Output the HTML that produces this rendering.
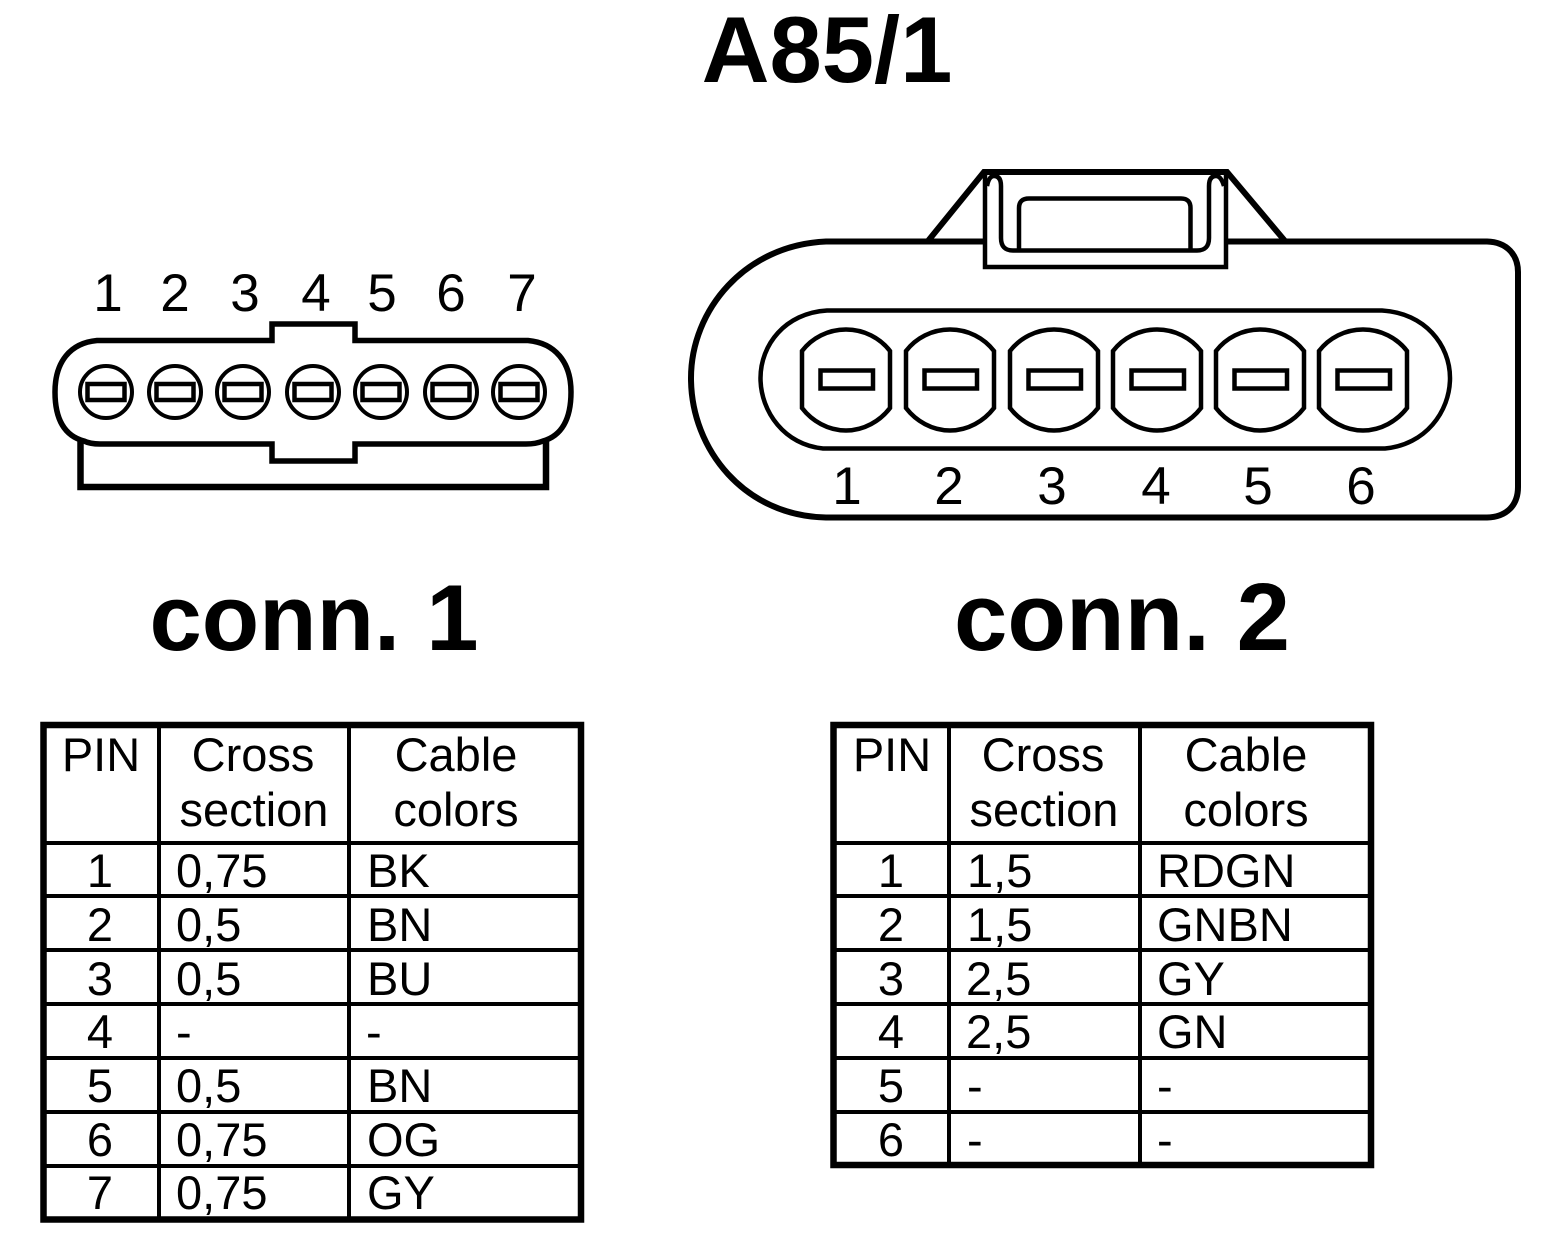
<!DOCTYPE html>
<html><head><meta charset="utf-8"><style>
html,body{margin:0;padding:0;background:#fff}
svg{display:block}
text{font-family:"Liberation Sans",sans-serif;fill:#000}
.t{font-size:47px}
.c{text-anchor:middle}
.n{font-size:53px;text-anchor:middle}
.b{font-weight:bold;text-anchor:middle}
</style></head><body>
<svg xmlns="http://www.w3.org/2000/svg" width="1568" height="1258" viewBox="0 0 1568 1258">
<defs>
<g id="cp"><circle cx="0" cy="392" r="26" stroke-width="4"/><rect x="-18.5" y="384" width="37" height="16" stroke-width="4.5"/></g>
<g id="pin"><path d="M-44 351C-34 338 -18 329.5 0 329.5C18 329.5 34 338 44 351V408C34 421 18 430.5 0 430.5C-18 430.5 -34 421 -44 408Z"/><rect x="-25.5" y="370.5" width="52.5" height="18"/></g>
</defs>
<rect width="1568" height="1258" fill="#fff"/>
<text x="827" y="82" class="b" font-size="94">A85/1</text>
<text x="314" y="650" class="b" font-size="94">conn. 1</text>
<text x="1122" y="650" class="b" font-size="96">conn. 2</text>

<!-- connector 1 -->
<g fill="none" stroke="#000" stroke-width="5.5">
<path d="M272 340.5V324H355V340.5H528C555 343 571 362 571 392C571 420 561 436 543 441Q536 444 526 444H355V461H272V444H100Q90 444 84 441C65 436 55 420 55 392C55 362 70 343 97 340.5Z"/>
<path d="M80.5 441V487H546V441" stroke-width="6.5"/>
<use href="#cp" x="106"/><use href="#cp" x="175"/><use href="#cp" x="243"/><use href="#cp" x="313"/><use href="#cp" x="381"/><use href="#cp" x="451"/><use href="#cp" x="519"/>
</g>
<text class="n" x="108" y="311">1</text><text class="n" x="175" y="311">2</text><text class="n" x="245" y="311">3</text><text class="n" x="316" y="311">4</text><text class="n" x="382" y="311">5</text><text class="n" x="451" y="311">6</text><text class="n" x="522" y="311">7</text>

<!-- connector 2 -->
<g fill="none" stroke="#000" stroke-width="4.5">
<path d="M985 241.5H826C745 245 691 310 691 378C691 450 745 516 826 517.5H1487C1507 517 1518 505 1518 487V272C1518 255 1507 242 1487 241.5H1226" stroke-width="6"/>
<path d="M928 241L984 172H1227L1285 241" stroke-width="6"/>
<path d="M985 174V267H1226V174"/>
<path d="M987 186Q989 176 994 176Q1001 176 1001 186V238Q1001 250.5 1013 250.5H1197Q1209 250.5 1209 238V186Q1209 176 1216 176Q1221 176 1224 186"/>
<path d="M1019 250V208Q1019 198.5 1029 198.5H1181Q1190.5 198.5 1190.5 208V250"/>
<path d="M827 310.5H1382C1425 313 1450 345 1450 378C1450 412 1425 445 1385 448.5H823C785 445 760.5 412 760.5 378C760.5 345 785 313 827 310.5Z"/>
<use href="#pin" x="846"/><use href="#pin" x="950"/><use href="#pin" x="1054"/><use href="#pin" x="1157"/><use href="#pin" x="1260"/><use href="#pin" x="1363"/>
</g>
<text class="n" x="847" y="504">1</text><text class="n" x="949" y="504">2</text><text class="n" x="1052" y="504">3</text><text class="n" x="1156" y="504">4</text><text class="n" x="1258" y="504">5</text><text class="n" x="1361" y="504">6</text>

<!-- table 1 -->
<g fill="none" stroke="#000" stroke-width="4">
<rect x="43.5" y="725" width="537.5" height="494.5" stroke-width="6.5"/>
<path d="M159 725V1219M349 725V1219M43 843H581M43 896H581M43 950H581M43 1004H581M43 1058H581M43 1112H581M43 1166H581"/>
</g>
<text class="t c" x="101" y="771">PIN</text><text class="t c" x="253" y="771">Cross</text><text class="t c" x="254" y="826">section</text><text class="t c" x="456" y="771">Cable</text><text class="t c" x="456" y="826">colors</text>
<text class="t c" x="100" y="887">1</text><text class="t" x="176" y="887">0,75</text><text class="t" x="367" y="887">BK</text>
<text class="t c" x="100" y="941">2</text><text class="t" x="176" y="941">0,5</text><text class="t" x="367" y="941">BN</text>
<text class="t c" x="100" y="995">3</text><text class="t" x="176" y="995">0,5</text><text class="t" x="367" y="995">BU</text>
<text class="t c" x="100" y="1048">4</text><text class="t" x="176" y="1048">-</text><text class="t" x="366" y="1048">-</text>
<text class="t c" x="100" y="1102">5</text><text class="t" x="176" y="1102">0,5</text><text class="t" x="367" y="1102">BN</text>
<text class="t c" x="100" y="1156">6</text><text class="t" x="176" y="1156">0,75</text><text class="t" x="367" y="1156">OG</text>
<text class="t c" x="100" y="1209">7</text><text class="t" x="176" y="1209">0,75</text><text class="t" x="367" y="1209">GY</text>

<!-- table 2 -->
<g fill="none" stroke="#000" stroke-width="4">
<rect x="833.5" y="725" width="537.5" height="440" stroke-width="6.5"/>
<path d="M949 725V1165M1140 725V1165M833 843H1371M833 896H1371M833 950H1371M833 1004H1371M833 1058H1371M833 1112H1371"/>
</g>
<text class="t c" x="892" y="771">PIN</text><text class="t c" x="1043" y="771">Cross</text><text class="t c" x="1044" y="826">section</text><text class="t c" x="1246" y="771">Cable</text><text class="t c" x="1246" y="826">colors</text>
<text class="t c" x="891" y="887">1</text><text class="t" x="967" y="887">1,5</text><text class="t" x="1157" y="887">RDGN</text>
<text class="t c" x="891" y="941">2</text><text class="t" x="967" y="941">1,5</text><text class="t" x="1157" y="941">GNBN</text>
<text class="t c" x="891" y="995">3</text><text class="t" x="966" y="995">2,5</text><text class="t" x="1157" y="995">GY</text>
<text class="t c" x="891" y="1048">4</text><text class="t" x="966" y="1048">2,5</text><text class="t" x="1157" y="1048">GN</text>
<text class="t c" x="891" y="1102">5</text><text class="t" x="967" y="1102">-</text><text class="t" x="1157" y="1102">-</text>
<text class="t c" x="891" y="1156">6</text><text class="t" x="967" y="1156">-</text><text class="t" x="1157" y="1156">-</text>
</svg>
</body></html>
